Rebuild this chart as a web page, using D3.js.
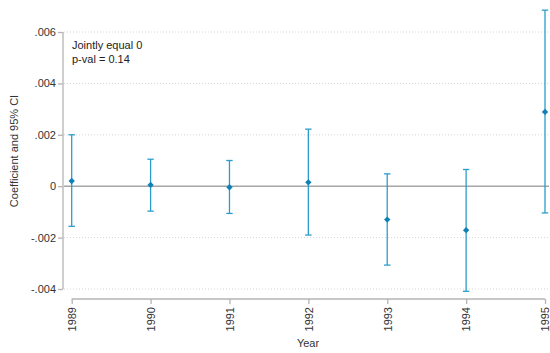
<!DOCTYPE html>
<html>
<head>
<meta charset="utf-8">
<script src="https://cdn.jsdelivr.net/npm/d3@7"></script>
<style>
  body { margin: 0; background: #fff; }
  svg { font-family: "Liberation Sans", Arial, sans-serif; }
</style>
</head>
<body>
<svg id="chart" width="550" height="353"></svg>
<script>
// estimates
var years = ["1989", "1990", "1991", "1992", "1993", "1994", "1995"];
var coef  = [0.00020, 0.00005, -0.00004, 0.00015, -0.00130, -0.00171, 0.00289];
var lower = [-0.00156, -0.00097, -0.00106, -0.00190, -0.00307, -0.00409, -0.00104];
var upper = [0.00200, 0.00105, 0.00100, 0.00222, 0.00048, 0.00065, 0.00685];
var yTicks = [-0.004, -0.002, 0, 0.002, 0.004, 0.006];
var yTickLabels = ["-.004", "-.002", "0", ".002", ".004", ".006"];

var svg = d3.select("#chart");

var x = d3.scalePoint().domain(years).range([71.7, 545]);
var y = d3.scaleLinear().domain([-0.004, 0.006]).range([289, 32]);

var plotLeft = 64, plotRight = 549;

// dotted grid
svg.append("g").selectAll("line")
  .data(yTicks.filter(function(d) { return d !== 0; }))
  .enter().append("line")
    .attr("x1", plotLeft).attr("x2", plotRight)
    .attr("y1", function(d) { return y(d); })
    .attr("y2", function(d) { return y(d); })
    .style("stroke", "#d4d4d4")
    .style("stroke-width", 1)
    .style("stroke-dasharray", "1,2");

// zero line
svg.append("line")
  .attr("x1", plotLeft).attr("x2", plotRight)
  .attr("y1", y(0)).attr("y2", y(0))
  .style("stroke", "#a6a6a6")
  .style("stroke-width", 1.4);

// y axis
var yAxis = svg.append("g")
  .attr("transform", "translate(63,0)")
  .call(d3.axisLeft(y).tickValues(yTicks).tickSize(5)
    .tickFormat(function(d, i) { return yTickLabels[i]; }));
yAxis.select(".domain").attr("d", "M0," + y(0.006) + "V" + y(-0.004))
  .style("stroke", "#b4b4b4").style("stroke-width", 1.3);
yAxis.selectAll(".tick line").style("stroke", "#b4b4b4").style("stroke-width", 1.3);
yAxis.selectAll(".tick text").attr("x", -7).style("font-size", "11px").style("fill", "#333");

// x axis
var xAxis = svg.append("g")
  .attr("transform", "translate(0,299)")
  .call(d3.axisBottom(x).tickSize(5).tickSizeOuter(0));
xAxis.select(".domain").attr("d", "M" + x("1989") + ",0H" + x("1995"))
  .style("stroke", "#b4b4b4").style("stroke-width", 1.3);
xAxis.selectAll(".tick line").style("stroke", "#b4b4b4").style("stroke-width", 1.3);
xAxis.selectAll(".tick text")
  .attr("transform", "rotate(-90)")
  .attr("x", -8).attr("y", 0).attr("dy", "0.35em")
  .style("text-anchor", "end")
  .style("font-size", "11px").style("fill", "#333");

// axis titles
svg.append("text")
  .attr("x", 308).attr("y", 347)
  .attr("text-anchor", "middle")
  .style("font-size", "11px").style("fill", "#333")
  .text("Year");
svg.append("text")
  .attr("transform", "translate(18,151) rotate(-90)")
  .attr("text-anchor", "middle")
  .style("font-size", "11px").style("fill", "#333")
  .text("Coefficient and 95% CI");

// note
svg.append("text").attr("x", 72).attr("y", 49)
  .style("font-size", "11px").style("fill", "#222").text("Jointly equal 0");
svg.append("text").attr("x", 72).attr("y", 63)
  .style("font-size", "11px").style("fill", "#222").text("p-val = 0.14");

// confidence intervals
var ciColor = "#2b9dcc", capW = 3.2;
var ci = svg.append("g").selectAll("g")
  .data(years)
  .enter().append("g");
ci.append("line")
  .attr("x1", function(d) { return x(d); }).attr("x2", function(d) { return x(d); })
  .attr("y1", function(d, i) { return y(upper[i]); })
  .attr("y2", function(d, i) { return y(lower[i]); });
ci.append("line")
  .attr("x1", function(d) { return x(d) - capW; }).attr("x2", function(d) { return x(d) + capW; })
  .attr("y1", function(d, i) { return y(upper[i]); })
  .attr("y2", function(d, i) { return y(upper[i]); });
ci.append("line")
  .attr("x1", function(d) { return x(d) - capW; }).attr("x2", function(d) { return x(d) + capW; })
  .attr("y1", function(d, i) { return y(lower[i]); })
  .attr("y2", function(d, i) { return y(lower[i]); });
ci.selectAll("line").style("stroke", ciColor).style("stroke-width", 1.3);

// point estimates (diamonds)
svg.append("g").selectAll("path")
  .data(years)
  .enter().append("path")
    .attr("d", d3.symbol().type(d3.symbolDiamond2).size(26))
    .attr("transform", function(d, i) { return "translate(" + x(d) + "," + y(coef[i]) + ")"; })
    .style("fill", "#0d82b6");
</script>
</body>
</html>
